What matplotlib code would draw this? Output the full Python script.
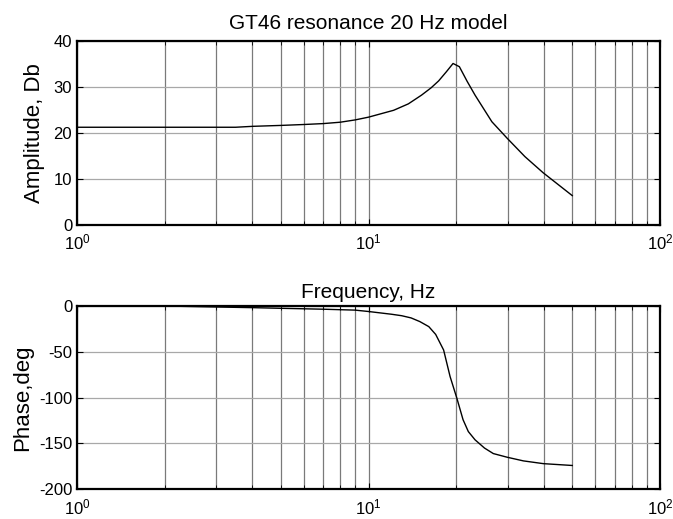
import numpy as np
import matplotlib.pyplot as plt

plt.rcParams['font.family'] = ['Liberation Sans', 'DejaVu Sans']
plt.rcParams['axes.unicode_minus'] = False

# values
freq_amp = [1, 2, 3, 3.5, 4, 5, 6, 7, 8, 9, 10, 12.2, 13.7, 15.2, 16.4,
            17.4, 18.5, 19.5, 20.5, 21.8, 23.2, 26.5, 29.9, 34.4, 39.7, 50]
amp_db = [21.2, 21.2, 21.2, 21.2, 21.4, 21.6, 21.8, 22.0, 22.3, 22.8, 23.4,
          24.9, 26.3, 28.2, 29.8, 31.3, 33.3, 35.1, 34.4, 31.2, 28.2, 22.4,
          18.8, 14.8, 11.3, 6.3]

freq_ph = [1, 2, 2.7, 4, 5, 7, 9, 10, 12, 13, 14, 15, 16.1, 17, 18.1, 19.05,
           20.1, 21.1, 22, 23.2, 25, 26.8, 29.9, 34, 39.8, 50]
phase_deg = [0, 0, -0.8, -1.8, -2.5, -3.5, -4.5, -6, -9, -10.6, -13, -17,
             -22.5, -31, -48, -77, -100.7, -124, -137, -146, -155, -161,
             -165, -169, -172, -174]

amp_ticks = [0, 10, 20, 30, 40]
phase_ticks = [-200, -150, -100, -50, 0]


def style_axes(ax):
    ax.set_xscale('log')
    ax.set_xlim(1, 100)
    ax.grid(True, which='major', axis='x', color='#7a7a7a', lw=0.9)
    ax.grid(True, which='minor', axis='x', color='#7a7a7a', lw=0.9)
    ax.grid(True, which='major', axis='y', color='#a8a8a8', lw=0.9)
    ax.tick_params(which='both', direction='in', top=True, right=True,
                   labelsize=12, color='black')
    ax.tick_params(which='major', length=4)
    ax.tick_params(which='minor', length=3)
    ax.tick_params(axis='x', pad=6)
    for s in ax.spines.values():
        s.set_linewidth(1.6)


fig = plt.figure(figsize=(6.73, 5.19), dpi=100)

ax1 = fig.add_axes([0.1144, 0.5674, 0.8663, 0.3536])
ax1.plot(freq_amp, amp_db, color='black', lw=1)
ax1.set_ylim(0, 40)
ax1.set_yticks(amp_ticks)
ax1.set_ylabel('Amplitude, Db', fontsize=16, labelpad=6)
ax1.set_title('GT46 resonance 20 Hz model', fontsize=15, pad=9)
style_axes(ax1)

ax2 = fig.add_axes([0.1144, 0.0572, 0.8663, 0.3532])
ax2.plot(freq_ph, phase_deg, color='black', lw=1)
ax2.set_ylim(-200, 0)
ax2.set_yticks(phase_ticks)
ax2.set_ylabel('Phase,deg', fontsize=16, labelpad=4)
ax2.set_title('Frequency, Hz', fontsize=15, pad=6)
style_axes(ax2)

fig.savefig('out.png', dpi=100)
